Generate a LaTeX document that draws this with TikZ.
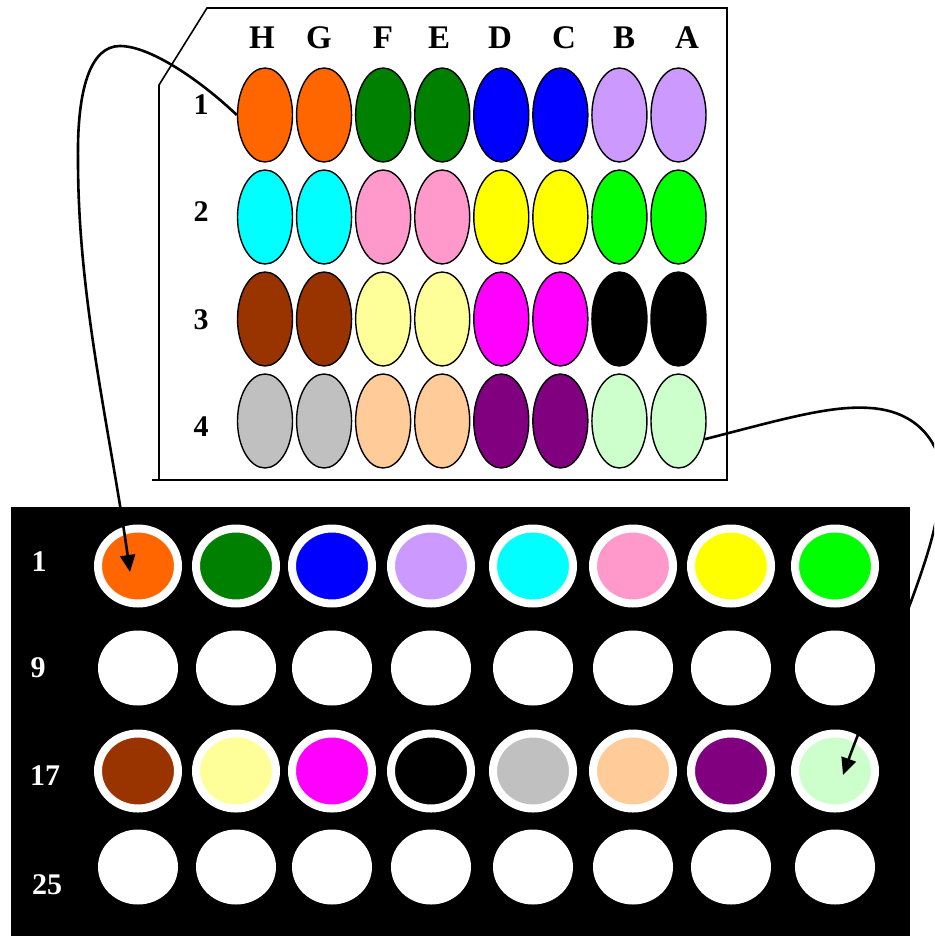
\documentclass[tikz,border=0pt]{standalone}
\usepackage{fontspec}
\setmainfont{Liberation Serif}
\usetikzlibrary{shapes.geometric,arrows.meta}
\definecolor{cOrange}{HTML}{FF6600}
\definecolor{cDkGreen}{HTML}{008000}
\definecolor{cBlue}{HTML}{0000FF}
\definecolor{cLav}{HTML}{CC99FF}
\definecolor{cCyan}{HTML}{00FFFF}
\definecolor{cPink}{HTML}{FF99CC}
\definecolor{cYellow}{HTML}{FFFF00}
\definecolor{cGreen}{HTML}{00FF00}
\definecolor{cBrown}{HTML}{993300}
\definecolor{cLtYellow}{HTML}{FFFF99}
\definecolor{cMagenta}{HTML}{FF00FF}
\definecolor{cBlack}{HTML}{000000}
\definecolor{cGray}{HTML}{C0C0C0}
\definecolor{cPeach}{HTML}{FFCC99}
\definecolor{cPurple}{HTML}{800080}
\definecolor{cLtGreen}{HTML}{CCFFCC}
\begin{document}
\begin{tikzpicture}[x=1pt,y=-1pt,
  tw/.style={ellipse,draw=black,line width=1.4pt,minimum width=55pt,minimum height=94pt,inner sep=0pt,fill=#1},
  bw/.style={ellipse,minimum width=80pt,minimum height=75pt,inner sep=0pt},
  ring/.style={bw,fill=#1,draw=white,line width=8pt},
  blank/.style={bw,fill=white},
  hdr/.style={font=\fontsize{33}{33}\selectfont\bfseries,inner sep=0pt},
  lbl/.style={font=\fontsize{30}{30}\selectfont\bfseries,inner sep=0pt},
  wlbl/.style={lbl,text=white},
  conn/.style={line width=2.6pt,-{Triangle[length=17pt,width=15pt]}}]
\useasboundingbox (0,0) rectangle (934,936);
\clip (0,0) rectangle (934,936);
% top plate
\draw[line width=1.6pt] (152,480) -- (727,480) -- (727,8) -- (207,8) -- (159,85) -- (159,480);
\foreach \t/\x in {H/262,G/319,F/383,E/439,D/500,C/564,B/624,A/687}
  \node[hdr] (h-\t) at (\x,38) {\t};
\foreach \t/\y in {1/105,2/212,3/320,4/427}
  \node[lbl] (r-\t) at (201,\y) {\t};
\foreach \clist [count=\r] in {
  {cOrange,cOrange,cDkGreen,cDkGreen,cBlue,cBlue,cLav,cLav},
  {cCyan,cCyan,cPink,cPink,cYellow,cYellow,cGreen,cGreen},
  {cBrown,cBrown,cLtYellow,cLtYellow,cMagenta,cMagenta,cBlack,cBlack},
  {cGray,cGray,cPeach,cPeach,cPurple,cPurple,cLtGreen,cLtGreen}}{
  \foreach \c [count=\i from 0] in \clist
    \node[tw=\c] (t-\r-\i) at ({265+59.07*\i},{115+102*(\r-1)}) {};
}
% bottom plate
\fill[black] (11,507) rectangle (910,940);
\node[wlbl] (l-1) at (39,562) {1};
\node[wlbl] (l-9) at (38,668) {9};
\node[wlbl] (l-17) at (45,776) {17};
\node[wlbl] (l-25) at (47,885) {25};
\foreach \c [count=\i] in {cOrange,cDkGreen,cBlue,cLav,cCyan,cPink,cYellow,cGreen}{
  \pgfmathsetmacro{\bx}{{138,236,332,431,533,633,731,835}[\i-1]}
  \node[ring=\c] (b-1-\i) at (\bx,566) {};
  \node[blank] (b-2-\i) at (\bx,668) {};
}
\foreach \c [count=\i] in {cBrown,cLtYellow,cMagenta,cBlack,cGray,cPeach,cPurple,cLtGreen}{
  \pgfmathsetmacro{\bx}{{138,236,332,431,533,633,731,835}[\i-1]}
  \node[ring=\c] (b-3-\i) at (\bx,771) {};
  \node[blank] (b-4-\i) at (\bx,867) {};
}
% connectors
\coordinate (e1) at (130,572);
\coordinate (e2) at (843,775);
\draw[conn] (t-1-0.west) .. controls (200,80) and (150,46) .. (120,46)
  .. controls (90,46) and (77,90) .. (78,160)
  .. controls (78,300) and (110,430) .. (e1);
\draw[conn] (t-4-7.-35) .. controls (780,420) and (830,405) .. (870,408)
  .. controls (935,412) and (955,470) .. (936,520)
  .. controls (925,580) and (870,700) .. (e2);
\end{tikzpicture}
\end{document}
